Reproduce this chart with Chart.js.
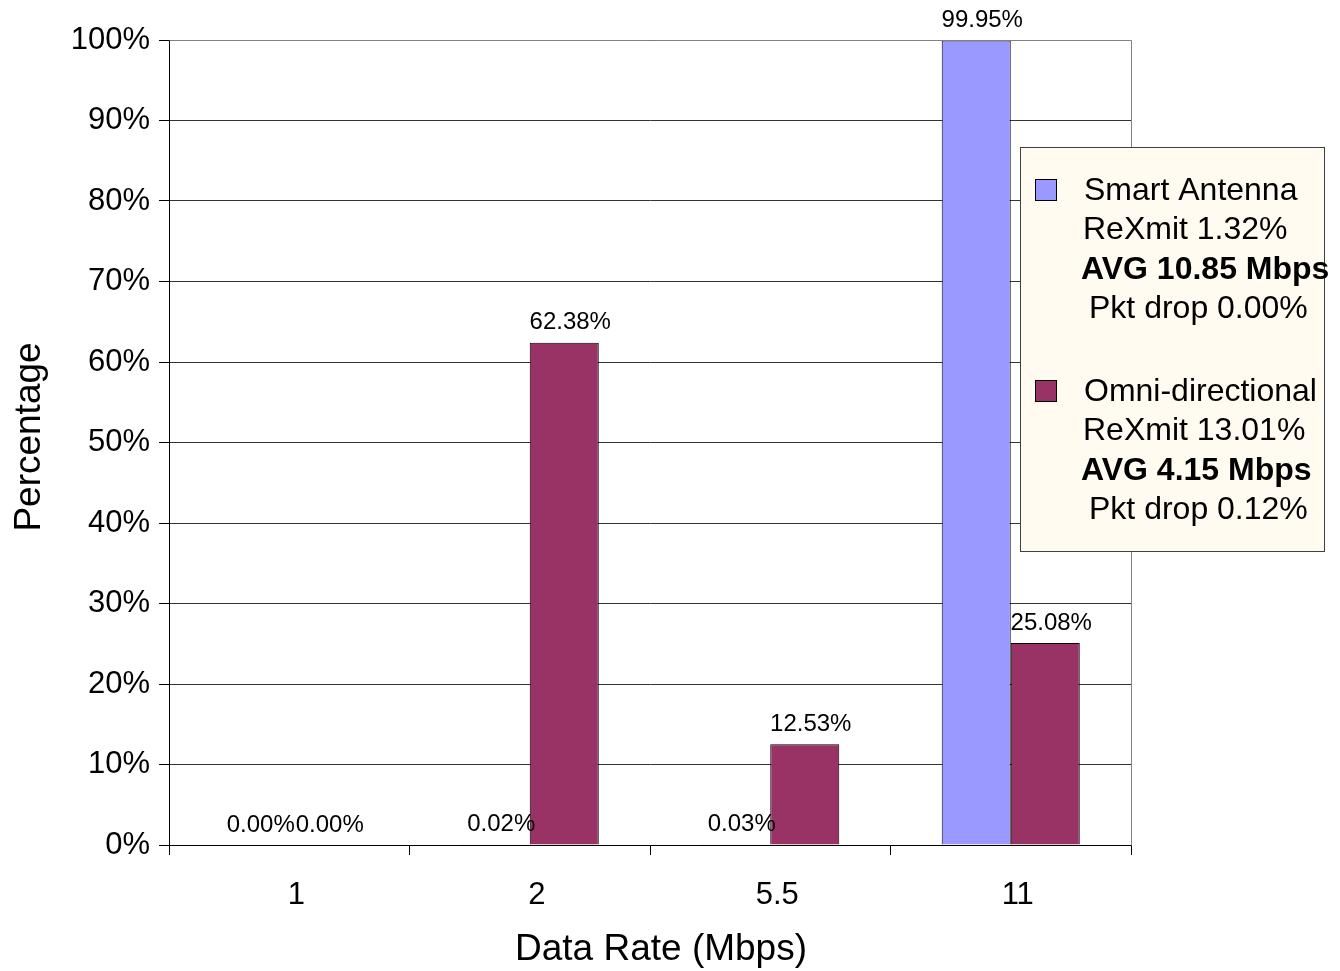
<!DOCTYPE html>
<html lang="en">
<head>
  <meta charset="UTF-8">
  <title>Data Rate Distribution</title>
  <script src="https://cdn.jsdelivr.net/npm/chart.js"></script>
  <style>
    body {
      margin: 0;
      background: #ffffff;
    }
    #wrap {
      width: 1340px;
      height: 971px;
    }
  </style>
</head>
<body>
  <div id="wrap">
    <canvas id="rateChart" width="1340" height="971"></canvas>
  </div>

  <script>
    const rates = ["1", "2", "5.5", "11"];
    const smartValues = [0.00, 0.02, 0.03, 99.95];
    const omniValues = [0.00, 62.38, 12.53, 25.08];
    const seriesNames = ["Smart Antenna", "Omni-directional"];
    const reXmit = ["ReXmit 1.32%", "ReXmit 13.01%"];
    const avgRate = ["AVG 10.85 Mbps", "AVG 4.15 Mbps"];
    const pktDrop = ["Pkt drop 0.00%", "Pkt drop 0.12%"];
    const xTitle = "Data Rate (Mbps)";
    const yTitle = "Percentage";

    const FONT = 'Arial, "Liberation Sans", sans-serif';
    Chart.defaults.font.family = FONT;
    Chart.defaults.color = "#000";

    // value labels above each bar
    const barLabels = {
      id: "barLabels",
      afterDatasetsDraw(chart) {
        const ctx = chart.ctx;
        ctx.save();
        ctx.font = "24px " + FONT;
        ctx.fillStyle = "#000";
        ctx.textAlign = "center";
        ctx.textBaseline = "middle";
        chart.data.datasets.forEach((ds, i) => {
          chart.getDatasetMeta(i).data.forEach((bar, j) => {
            ctx.fillText(ds.data[j].toFixed(2) + "%", bar.x + 6, bar.y - 20);
          });
        });
        ctx.restore();
      }
    };

    // plot frame, axis titles, legend box
    const frameAndLegend = {
      id: "frameAndLegend",
      afterDraw(chart) {
        const ctx = chart.ctx;
        const a = chart.chartArea;
        ctx.save();
        ctx.strokeStyle = "#808080";
        ctx.lineWidth = 1;
        ctx.beginPath();
        ctx.moveTo(Math.round(a.left) + 0.5, Math.round(a.top) + 0.5);
        ctx.lineTo(Math.round(a.right) + 0.5, Math.round(a.top) + 0.5);
        ctx.lineTo(Math.round(a.right) + 0.5, Math.round(a.bottom) + 0.5);
        ctx.stroke();

        // axis titles
        ctx.fillStyle = "#000";
        ctx.font = "37px " + FONT;
        ctx.textAlign = "center";
        ctx.textBaseline = "middle";
        ctx.fillText(xTitle, 661, 950);
        ctx.save();
        ctx.translate(30, 437);
        ctx.rotate(-Math.PI / 2);
        ctx.fillText(yTitle, 0, 0);
        ctx.restore();

        // legend
        ctx.fillStyle = "#FFFBF0";
        ctx.fillRect(1020.5, 147.5, 304, 404);
        ctx.strokeStyle = "#404040";
        ctx.strokeRect(1020.5, 147.5, 304, 404);

        ctx.textAlign = "left";
        const lineX = [1084, 1083, 1081, 1089];
        chart.data.datasets.forEach((ds, i) => {
          const y0 = 191 + i * 201;
          ctx.fillStyle = ds.backgroundColor;
          ctx.fillRect(1035.5, y0 - 11.5, 21, 21);
          ctx.strokeStyle = "#000";
          ctx.strokeRect(1035.5, y0 - 11.5, 21, 21);
          ctx.fillStyle = "#000";
          const lines = [seriesNames[i], reXmit[i], avgRate[i], pktDrop[i]];
          lines.forEach((t, k) => {
            ctx.font = (k === 2 ? "bold " : "") + "32px " + FONT;
            ctx.fillText(t, lineX[k], y0 + k * 39.5);
          });
        });
        ctx.restore();
      }
    };

    new Chart(document.getElementById("rateChart"), {
      type: "bar",
      data: {
        labels: rates,
        datasets: [
          {
            label: seriesNames[0],
            data: smartValues,
            backgroundColor: "#9999FF",
            borderColor: "#000",
            borderWidth: 1
          },
          {
            label: seriesNames[1],
            data: omniValues,
            backgroundColor: "#993366",
            borderColor: "#000",
            borderWidth: 1
          }
        ]
      },
      options: {
        responsive: false,
        animation: false,
        layout: { padding: { top: 40, right: 209, left: 0, bottom: 0 } },
        datasets: {
          bar: { categoryPercentage: 0.574, barPercentage: 1 }
        },
        plugins: {
          legend: { display: false },
          tooltip: { enabled: false }
        },
        scales: {
          x: {
            afterFit(scale) { scale.height = 126; },
            grid: {
              offset: true,
              drawOnChartArea: false,
              tickLength: 10,
              color: "#000"
            },
            border: { color: "#000" },
            ticks: { font: { size: 31 }, padding: 22, labelOffset: 7, color: "#000" }
          },
          y: {
            min: 0,
            max: 100,
            afterFit(scale) { scale.width = 169; },
            grid: {
              color: "#333",
              tickLength: 10,
              tickColor: "#000"
            },
            border: { color: "#000" },
            ticks: {
              stepSize: 10,
              font: { size: 31 },
              padding: 9,
              color: "#000",
              callback: v => v + "%"
            }
          }
        }
      },
      plugins: [barLabels, frameAndLegend]
    });
  </script>
</body>
</html>
